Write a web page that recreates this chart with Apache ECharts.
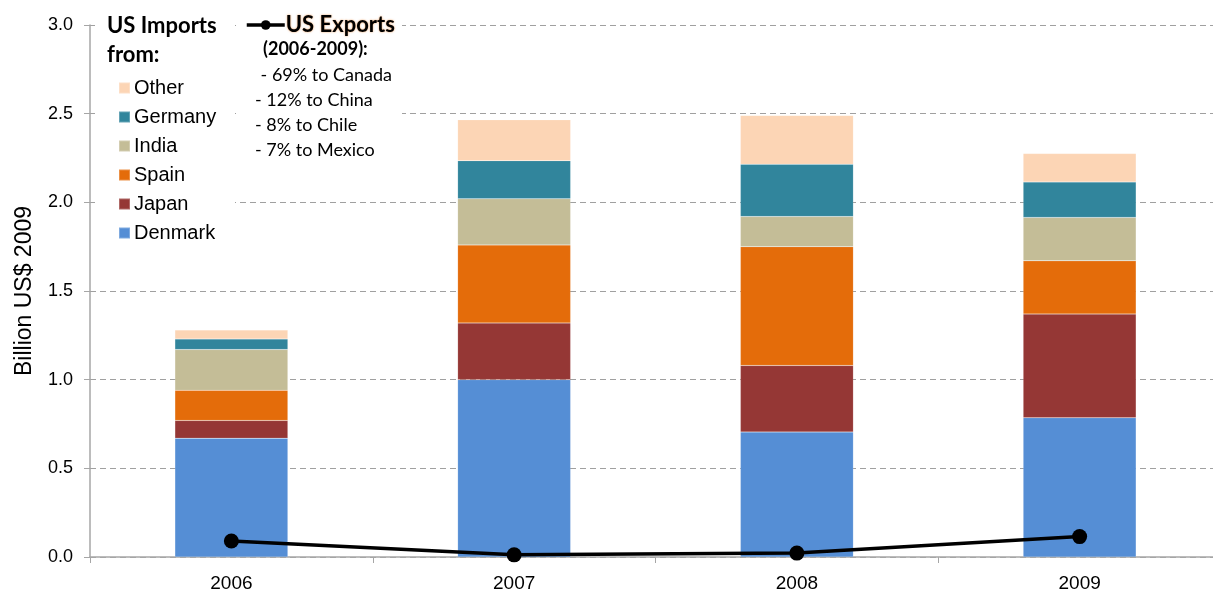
<!DOCTYPE html>
<html>
<head>
<meta charset="utf-8">
<script src="https://cdn.jsdelivr.net/npm/echarts@6/dist/echarts.min.js"></script>
<style>
html,body{margin:0;padding:0;background:#fff;}
#c{width:1213px;height:597px;}
</style>
</head>
<body>
<div id="c"></div>
<script>
var years = ['2006', '2007', '2008', '2009'];
var denmark = [0.67, 1.00, 0.705, 0.785];
var japan   = [0.10, 0.32, 0.375, 0.585];
var spain   = [0.17, 0.44, 0.67, 0.30];
var india   = [0.23, 0.26, 0.17, 0.245];
var germany = [0.06, 0.215, 0.295, 0.20];
var other   = [0.05, 0.23, 0.275, 0.16];
var usExports = [0.09, 0.012, 0.022, 0.115];
var importLegend = ['Other', 'Germany', 'India', 'Spain', 'Japan', 'Denmark'];
var exportNotes = ['(2006-2009):', ' - 69% to Canada', '- 12% to China', '- 8% to Chile', '- 7% to Mexico'];

var chart = echarts.init(document.getElementById('c'), null, {renderer: 'canvas'});
var font = 'Liberation Sans, Arial, sans-serif';
var cal = 'Lato, Open Sans, sans-serif';

function bar(name, data, color) {
  return {
    name: name, type: 'bar', stack: 'imp', data: data, barWidth: 113,
    itemStyle: {color: color, borderColor: 'rgba(255,255,255,0.25)', borderWidth: 0.5},
    emphasis: {disabled: true}, z: 2
  };
}

var noteX = [263, 256, 255, 255, 255];
var noteY = [49, 75, 100, 125, 150];
var notesGraphic = exportNotes.map(function (t, i) {
  return {
    type: 'text', z: 100, x: noteX[i], y: noteY[i],
    style: {text: t, font: (i === 0 ? 'bold ' : '') + '18px ' + cal, fill: '#000', verticalAlign: 'middle'}
  };
});

chart.setOption({
  animation: false,
  backgroundColor: '#fff',
  grid: {left: 90, right: -8, top: 25, bottom: 40, outerBoundsMode: 'none', containLabel: false},
  xAxis: {
    type: 'category', data: years,
    axisLine: {lineStyle: {color: '#A6A6A6', width: 1.5}},
    axisTick: {show: true, length: 6, lineStyle: {color: '#A6A6A6'}},
    axisLabel: {color: '#000', fontSize: 19, fontFamily: font, margin: 17}
  },
  yAxis: {
    type: 'value', min: 0, max: 3, interval: 0.5,
    name: 'Billion US$ 2009', nameLocation: 'middle', nameRotate: 90, nameGap: 54,
    nameTextStyle: {color: '#000', fontSize: 23, fontFamily: font},
    axisLine: {show: true, lineStyle: {color: '#A6A6A6', width: 1.5}},
    axisTick: {show: true, length: 6, lineStyle: {color: '#A6A6A6'}},
    axisLabel: {color: '#000', fontSize: 18, fontFamily: font, margin: 17,
      formatter: function (v) { return v.toFixed(1); }},
    splitLine: {show: true, lineStyle: {color: '#A0A0A0', type: [6, 4], width: 1}}
  },
  legend: [
    {
      data: importLegend, orient: 'vertical', left: 118, top: 78, padding: 0,
      icon: 'rect', itemWidth: 11, itemHeight: 11, itemGap: 9,
      textStyle: {color: '#000', fontSize: 20, fontFamily: font, lineHeight: 20, padding: [0, 0, 0, -1]},
      selectedMode: false
    },
    {
      data: ['US Exports'], left: 245, top: 14, padding: 0,
      itemWidth: 38, itemHeight: 12,
      lineStyle: {width: 3.5, color: '#000'},
      itemStyle: {color: '#000'},
      textStyle: {color: '#000', fontSize: 22, fontWeight: 'bold', fontFamily: cal,
        padding: [0, 0, 0, -4],
        textShadowColor: 'rgba(228,108,10,0.7)', textShadowBlur: 2},
      selectedMode: false
    }
  ],
  graphic: [
    {type: 'rect', z: 1, shape: {x: 95, y: 8, width: 140, height: 244}, style: {fill: '#fff'}},
    {type: 'rect', z: 1, shape: {x: 240, y: 8, width: 162, height: 158}, style: {fill: '#fff'}},
    {type: 'text', z: 100, x: 107, y: 26,
      style: {text: 'US Imports', font: 'bold 22px ' + cal, fill: '#000', verticalAlign: 'middle'}},
    {type: 'text', z: 100, x: 107, y: 55,
      style: {text: 'from:', font: 'bold 22px ' + cal, fill: '#000', verticalAlign: 'middle'}}
  ].concat(notesGraphic),
  series: [
    bar('Denmark', denmark, '#558ED5'),
    bar('Japan', japan, '#953735'),
    bar('Spain', spain, '#E46C0A'),
    bar('India', india, '#C4BD97'),
    bar('Germany', germany, '#31859C'),
    bar('Other', other, '#FCD5B5'),
    {
      name: 'US Exports', type: 'line', data: usExports, z: 5,
      symbol: 'circle', symbolSize: 15,
      lineStyle: {color: '#000', width: 3.5},
      itemStyle: {color: '#000'},
      emphasis: {disabled: true}
    }
  ]
});
</script>
</body>
</html>
